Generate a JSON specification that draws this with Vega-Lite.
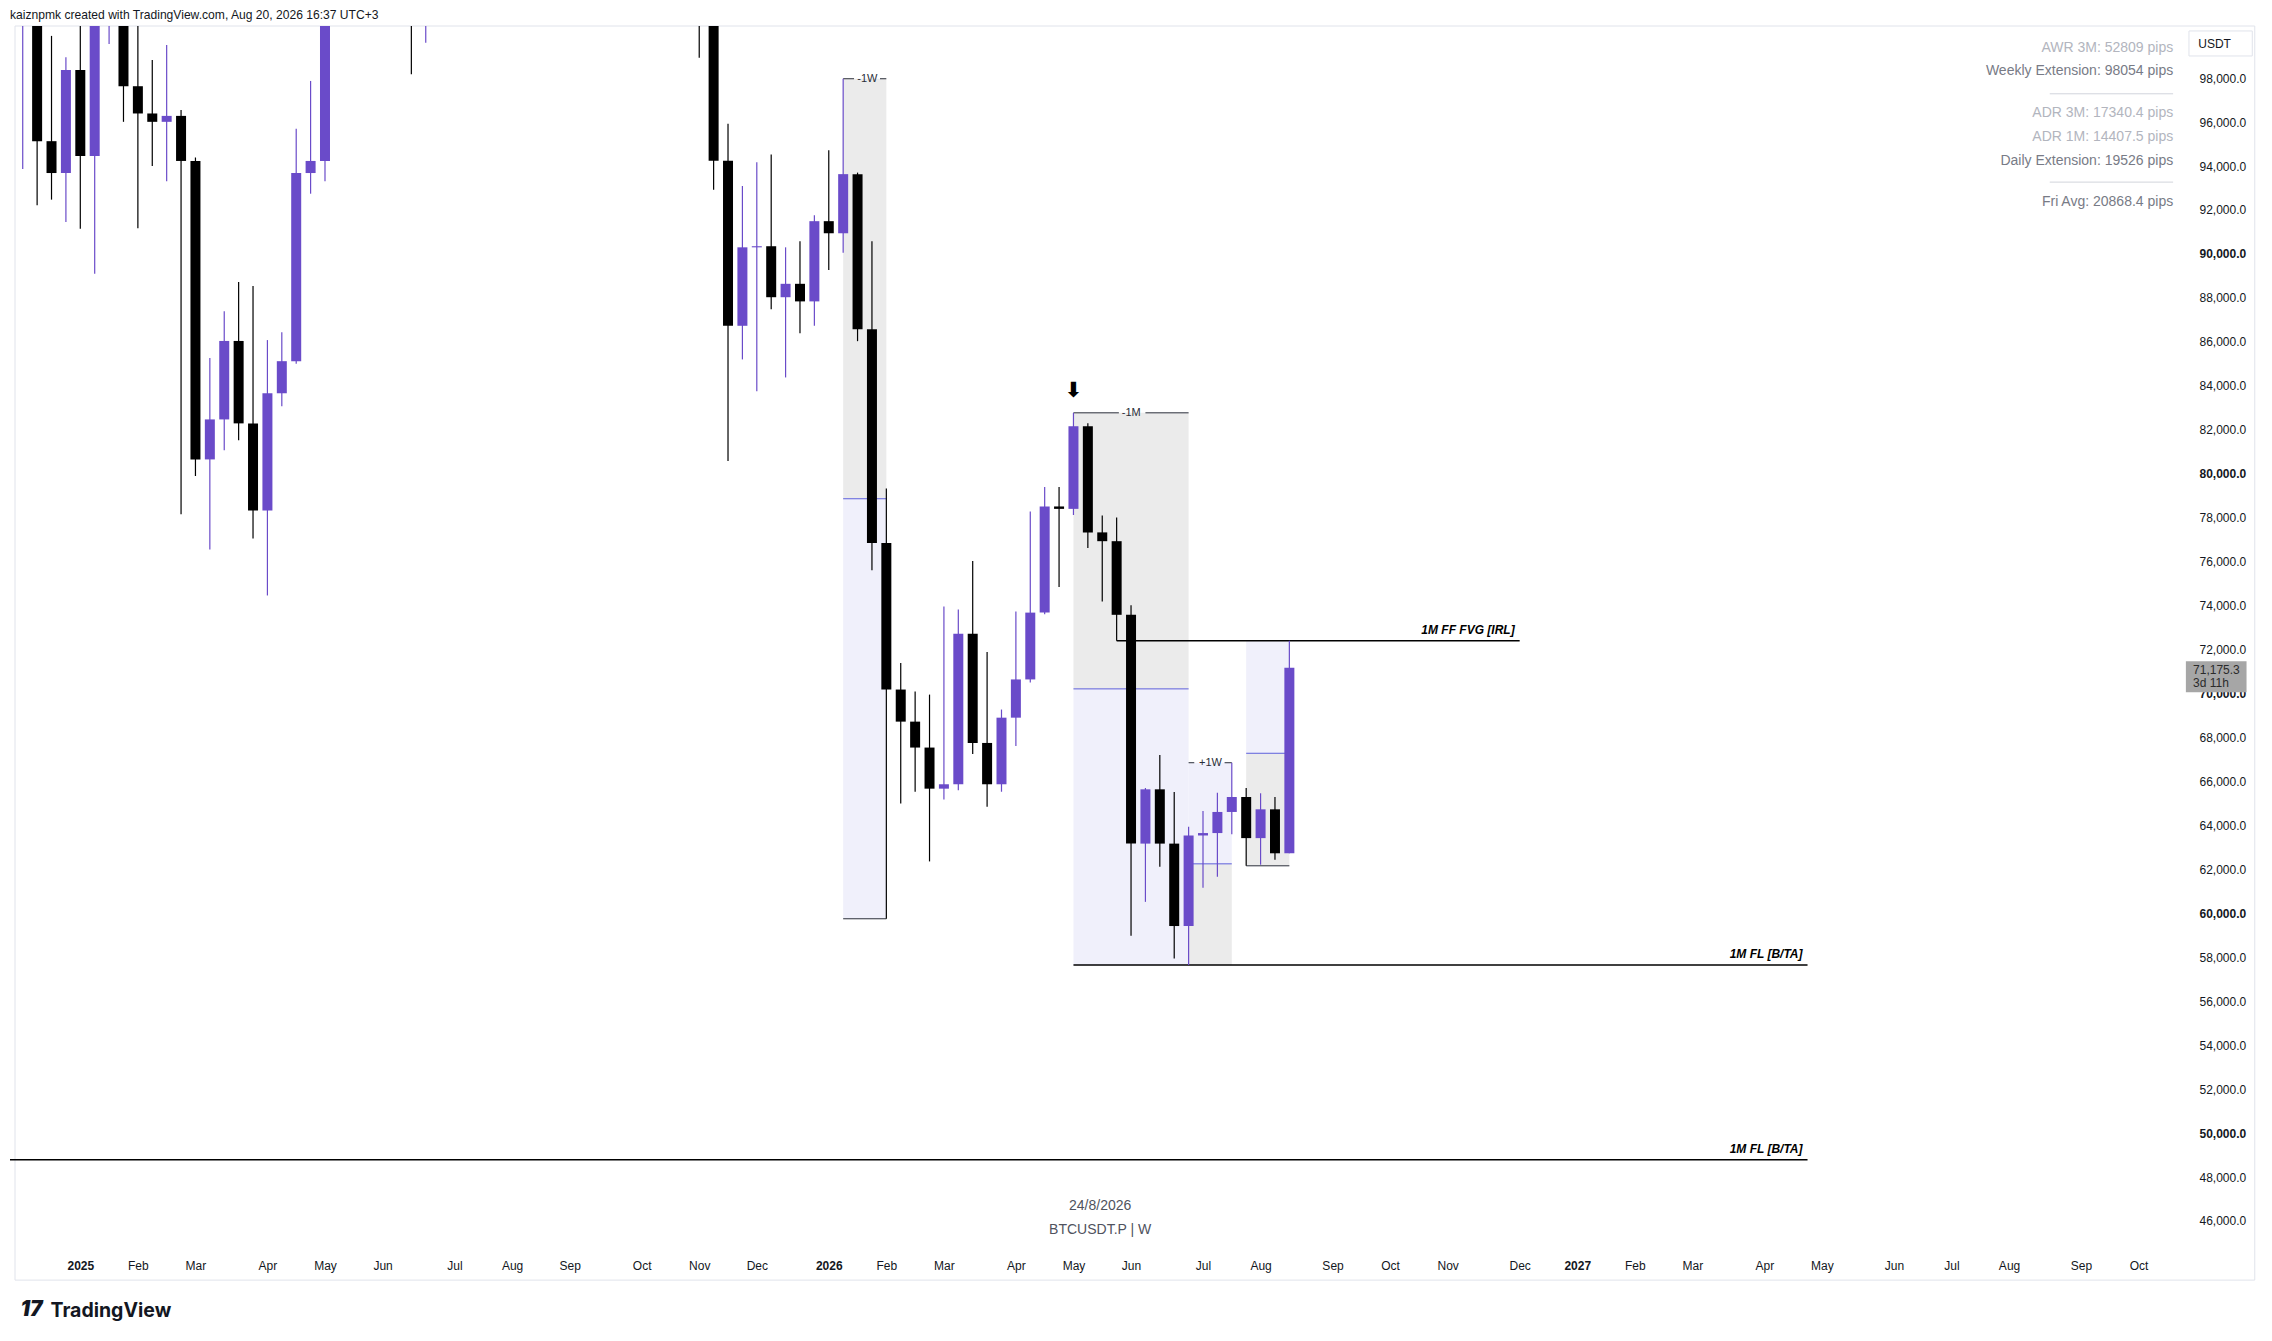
{
  "$schema": "https://vega.github.io/schema/vega-lite/v6.json",
  "width": 2178,
  "height": 1224,
  "autosize": {"type": "none"},
  "padding": {"left": 10, "top": 26, "right": 84, "bottom": 91},
  "background": "#ffffff",
  "view": {"stroke": null},
  "title": {
    "text": "kaiznpmk created with TradingView.com, Aug 20, 2026 16:37 UTC+3",
    "anchor": "start",
    "frame": "group",
    "offset": 8,
    "dy": 14,
    "baseline": "alphabetic",
    "font": "Liberation Sans",
    "fontSize": 12.1,
    "fontWeight": "normal",
    "color": "#131722"
  },
  "datasets": {
    "candles": [
      {"d": "2024-12-09", "o": 101100, "h": 106600, "l": 93860, "c": 106100},
      {"d": "2024-12-16", "o": 106100, "h": 108300, "l": 92220, "c": 95130},
      {"d": "2024-12-23", "o": 95130, "h": 99920, "l": 92470, "c": 93680},
      {"d": "2024-12-30", "o": 93680, "h": 98950, "l": 91450, "c": 98370},
      {"d": "2025-01-06", "o": 98370, "h": 102700, "l": 91150, "c": 94450},
      {"d": "2025-01-13", "o": 94450, "h": 106300, "l": 89100, "c": 101300},
      {"d": "2025-01-20", "o": 101300, "h": 109600, "l": 99550, "c": 104700},
      {"d": "2025-01-27", "o": 104700, "h": 106500, "l": 96010, "c": 97630},
      {"d": "2025-02-03", "o": 97630, "h": 102500, "l": 91170, "c": 96390},
      {"d": "2025-02-10", "o": 96390, "h": 98820, "l": 94000, "c": 96010},
      {"d": "2025-02-17", "o": 96010, "h": 99500, "l": 93310, "c": 96280},
      {"d": "2025-02-24", "o": 96280, "h": 96550, "l": 78160, "c": 94230},
      {"d": "2025-03-03", "o": 94230, "h": 94390, "l": 79900, "c": 80650},
      {"d": "2025-03-10", "o": 80650, "h": 85260, "l": 76550, "c": 82470},
      {"d": "2025-03-17", "o": 82470, "h": 87390, "l": 81070, "c": 86040},
      {"d": "2025-03-24", "o": 86040, "h": 88720, "l": 81520, "c": 82290},
      {"d": "2025-03-31", "o": 82290, "h": 88540, "l": 77050, "c": 78330},
      {"d": "2025-04-07", "o": 78330, "h": 86080, "l": 74460, "c": 83660},
      {"d": "2025-04-14", "o": 83660, "h": 86440, "l": 83070, "c": 85120},
      {"d": "2025-04-21", "o": 85120, "h": 95700, "l": 85000, "c": 93680},
      {"d": "2025-04-28", "o": 93680, "h": 97870, "l": 92740, "c": 94230},
      {"d": "2025-05-05", "o": 94230, "h": 104300, "l": 93310, "c": 104100},
      {"d": "2025-05-12", "o": 104100, "h": 107100, "l": 100700, "c": 106500},
      {"d": "2025-05-19", "o": 106500, "h": 111900, "l": 102000, "c": 109000},
      {"d": "2025-05-26", "o": 109000, "h": 110400, "l": 103100, "c": 105700},
      {"d": "2025-06-02", "o": 105700, "h": 110600, "l": 100500, "c": 105600},
      {"d": "2025-06-09", "o": 105600, "h": 110400, "l": 102700, "c": 105500},
      {"d": "2025-06-16", "o": 105500, "h": 108900, "l": 98170, "c": 100900},
      {"d": "2025-06-23", "o": 100900, "h": 108500, "l": 99610, "c": 108300},
      {"d": "2025-06-30", "o": 108300, "h": 110600, "l": 105100, "c": 109200},
      {"d": "2025-07-07", "o": 109200, "h": 119500, "l": 107500, "c": 119100},
      {"d": "2025-07-14", "o": 119100, "h": 123200, "l": 115700, "c": 117300},
      {"d": "2025-07-21", "o": 117300, "h": 120200, "l": 114700, "c": 119400},
      {"d": "2025-07-28", "o": 119400, "h": 119800, "l": 112000, "c": 114200},
      {"d": "2025-08-04", "o": 114200, "h": 122300, "l": 112700, "c": 119300},
      {"d": "2025-08-11", "o": 119300, "h": 124500, "l": 114600, "c": 117400},
      {"d": "2025-08-18", "o": 117400, "h": 117600, "l": 110600, "c": 113500},
      {"d": "2025-08-25", "o": 113500, "h": 113600, "l": 107300, "c": 108200},
      {"d": "2025-09-01", "o": 108200, "h": 113400, "l": 107300, "c": 111100},
      {"d": "2025-09-08", "o": 111100, "h": 116700, "l": 110600, "c": 115300},
      {"d": "2025-09-15", "o": 115300, "h": 117900, "l": 114700, "c": 115200},
      {"d": "2025-09-22", "o": 115200, "h": 115400, "l": 108600, "c": 112200},
      {"d": "2025-09-29", "o": 112200, "h": 125700, "l": 111800, "c": 123500},
      {"d": "2025-10-06", "o": 123500, "h": 126200, "l": 102000, "c": 115200},
      {"d": "2025-10-13", "o": 115200, "h": 115900, "l": 103500, "c": 108600},
      {"d": "2025-10-20", "o": 108600, "h": 116000, "l": 106700, "c": 114500},
      {"d": "2025-10-27", "o": 114500, "h": 116400, "l": 106300, "c": 110600},
      {"d": "2025-11-03", "o": 110600, "h": 111200, "l": 98930, "c": 104700},
      {"d": "2025-11-10", "o": 104700, "h": 107000, "l": 92920, "c": 94240},
      {"d": "2025-11-17", "o": 94240, "h": 95920, "l": 80580, "c": 86730},
      {"d": "2025-11-24", "o": 86730, "h": 93090, "l": 85200, "c": 90300},
      {"d": "2025-12-01", "o": 90300, "h": 94170, "l": 83750, "c": 90350},
      {"d": "2025-12-08", "o": 90350, "h": 94520, "l": 87480, "c": 88030},
      {"d": "2025-12-15", "o": 88030, "h": 90300, "l": 84380, "c": 88640},
      {"d": "2025-12-22", "o": 88640, "h": 90580, "l": 86390, "c": 87840},
      {"d": "2025-12-29", "o": 87840, "h": 91760, "l": 86730, "c": 91490},
      {"d": "2026-01-05", "o": 91490, "h": 94720, "l": 89270, "c": 90940},
      {"d": "2026-01-12", "o": 90940, "h": 97970, "l": 90050, "c": 93630},
      {"d": "2026-01-19", "o": 93630, "h": 93700, "l": 86030, "c": 86570},
      {"d": "2026-01-26", "o": 86570, "h": 90580, "l": 75610, "c": 76850},
      {"d": "2026-02-02", "o": 76850, "h": 79330, "l": 59750, "c": 70180},
      {"d": "2026-02-09", "o": 70180, "h": 71390, "l": 64990, "c": 68720},
      {"d": "2026-02-16", "o": 68720, "h": 70090, "l": 65530, "c": 67540},
      {"d": "2026-02-23", "o": 67540, "h": 69950, "l": 62360, "c": 65670},
      {"d": "2026-03-02", "o": 65670, "h": 73960, "l": 65180, "c": 65870},
      {"d": "2026-03-09", "o": 65870, "h": 73820, "l": 65600, "c": 72720},
      {"d": "2026-03-16", "o": 72720, "h": 76030, "l": 67250, "c": 67750},
      {"d": "2026-03-23", "o": 67750, "h": 71890, "l": 64850, "c": 65870},
      {"d": "2026-03-30", "o": 65870, "h": 69270, "l": 65530, "c": 68900},
      {"d": "2026-04-06", "o": 68900, "h": 73730, "l": 67610, "c": 70640},
      {"d": "2026-04-13", "o": 70640, "h": 78280, "l": 70500, "c": 73680},
      {"d": "2026-04-20", "o": 73680, "h": 79390, "l": 73600, "c": 78510},
      {"d": "2026-04-27", "o": 78510, "h": 79390, "l": 74840, "c": 78400},
      {"d": "2026-05-04", "o": 78400, "h": 82770, "l": 78120, "c": 82160},
      {"d": "2026-05-11", "o": 82160, "h": 82300, "l": 76620, "c": 77330},
      {"d": "2026-05-18", "o": 77330, "h": 78100, "l": 74190, "c": 76930},
      {"d": "2026-05-25", "o": 76930, "h": 78010, "l": 72400, "c": 73580},
      {"d": "2026-06-01", "o": 73580, "h": 74020, "l": 58980, "c": 63170},
      {"d": "2026-06-08", "o": 63170, "h": 65700, "l": 60520, "c": 65640},
      {"d": "2026-06-15", "o": 65640, "h": 67200, "l": 62120, "c": 63170},
      {"d": "2026-06-22", "o": 63170, "h": 65520, "l": 57940, "c": 59420},
      {"d": "2026-06-29", "o": 59420, "h": 63940, "l": 57650, "c": 63540},
      {"d": "2026-07-06", "o": 63540, "h": 64650, "l": 61160, "c": 63650},
      {"d": "2026-07-13", "o": 63650, "h": 65480, "l": 61660, "c": 64610},
      {"d": "2026-07-20", "o": 64610, "h": 66850, "l": 63600, "c": 65290},
      {"d": "2026-07-27", "o": 65290, "h": 65700, "l": 62160, "c": 63420},
      {"d": "2026-08-03", "o": 63420, "h": 65460, "l": 62210, "c": 64730},
      {"d": "2026-08-10", "o": 64730, "h": 65290, "l": 62440, "c": 62730},
      {"d": "2026-08-17", "o": 62730, "h": 72400, "l": 62730, "c": 71175.3}
    ],
    "zones": [
      {"x1": "2026-01-12", "x2": "2026-02-02", "y1": 97970, "y2": 78860, "tone": "gray"},
      {"x1": "2026-01-12", "x2": "2026-02-02", "y1": 78860, "y2": 59750, "tone": "lav"},
      {"x1": "2026-05-04", "x2": "2026-06-29", "y1": 82770, "y2": 70210, "tone": "gray"},
      {"x1": "2026-05-04", "x2": "2026-06-29", "y1": 70210, "y2": 57650, "tone": "lav"},
      {"x1": "2026-06-29", "x2": "2026-07-20", "y1": 66850, "y2": 62250, "tone": "lav"},
      {"x1": "2026-06-29", "x2": "2026-07-20", "y1": 62250, "y2": 57650, "tone": "gray"},
      {"x1": "2026-07-27", "x2": "2026-08-17", "y1": 72400, "y2": 67280, "tone": "lav"},
      {"x1": "2026-07-27", "x2": "2026-08-17", "y1": 67280, "y2": 62160, "tone": "gray"}
    ],
    "mids": [
      {"x1": "2026-01-12", "x2": "2026-02-02", "y": 78860},
      {"x1": "2026-05-04", "x2": "2026-06-29", "y": 70210},
      {"x1": "2026-06-29", "x2": "2026-07-20", "y": 62250},
      {"x1": "2026-07-27", "x2": "2026-08-17", "y": 67280}
    ],
    "edges": [
      {"x1": "2026-01-12", "x2": "2026-02-02", "y": 59750},
      {"x1": "2026-01-12", "x2": "2026-01-17T07:00:00Z", "y": 97970},
      {"x1": "2026-01-29T22:00:00Z", "x2": "2026-02-02", "y": 97970},
      {"x1": "2026-05-04", "x2": "2026-05-26T02:00:00Z", "y": 82770},
      {"x1": "2026-06-08", "x2": "2026-06-29", "y": 82770},
      {"x1": "2026-06-29", "x2": "2026-07-01T18:00:00Z", "y": 66850},
      {"x1": "2026-07-16T12:00:00Z", "x2": "2026-07-20", "y": 66850},
      {"x1": "2026-07-27", "x2": "2026-08-17", "y": 62160}
    ],
    "levels": [
      {"x1": "2026-05-04", "x2": "2027-04-26", "y": 57650, "name": "1M FL [B/TA]"},
      {"x1": "2024-11-25", "x2": "2027-04-26", "y": 48790, "name": "1M FL [B/TA]"},
      {"x1": "2026-05-25", "x2": "2026-12-07", "y": 72400, "name": "1M FF FVG [IRL]"}
    ],
    "boxlabels": [
      {"x": "2026-01-23T19:00:00Z", "y": 97970, "t": "-1W"},
      {"x": "2026-06-01T03:00:00Z", "y": 82770, "t": "-1M"},
      {"x": "2026-07-09T15:00:00Z", "y": 66850, "t": "+1W"}
    ],
    "marker": [
      {"x": "2026-05-04", "y": 83750, "t": "⬇"}
    ],
    "info": [
      {"x": "2027-10-20T20:00:00Z", "y": 99379, "t": "AWR 3M: 52809 pips", "grp": "avg"},
      {"x": "2027-10-20T20:00:00Z", "y": 98304, "t": "Weekly Extension: 98054 pips", "grp": "ext"},
      {"x": "2027-10-20T20:00:00Z", "y": 96409, "t": "ADR 3M: 17340.4 pips", "grp": "avg"},
      {"x": "2027-10-20T20:00:00Z", "y": 95316, "t": "ADR 1M: 14407.5 pips", "grp": "avg"},
      {"x": "2027-10-20T20:00:00Z", "y": 94237, "t": "Daily Extension: 19526 pips", "grp": "ext"},
      {"x": "2027-10-20T20:00:00Z", "y": 92366, "t": "Fri Avg: 20868.4 pips", "grp": "ext"}
    ],
    "separators": [
      {"x1": "2027-08-21T19:00:00Z", "x2": "2027-10-20T19:00:00Z", "y": 97286},
      {"x1": "2027-08-21T19:00:00Z", "x2": "2027-10-20T19:00:00Z", "y": 93267}
    ],
    "watermark": [
      {"x": "2026-05-17", "y": 46680, "t": "24/8/2026"},
      {"x": "2026-05-17", "y": 45590, "t": "BTCUSDT.P | W"}
    ],
    "logo": [
      {"x": "2024-12-13T07:00:00Z", "y": 41944, "t": "17"}
    ],
    "frame": [
      {"x1": "2024-12-05T05:48:00Z", "x2": "2027-11-29T12:00:00Z", "y1": 100370, "y2": 43310}
    ],
    "unitbox": [
      {"x1": "2027-10-28T12:00:00Z", "x2": "2027-11-28T07:00:00Z", "y1": 100144, "y2": 99006}
    ],
    "unittext": [
      {"x": "2027-11-02", "y": 99552, "t": "USDT"}
    ],
    "pricebox": [
      {"x1": "2027-10-27", "x2": "2027-11-25T12:00:00Z", "y1": 71467, "y2": 70056}
    ],
    "pricetext": [
      {"x": "2027-10-30T12:00:00Z", "y": 71089, "t": "71,175.3"},
      {"x": "2027-10-30T12:00:00Z", "y": 70474, "t": "3d 11h"}
    ]
  },
  "layer": [
    {
      "data": {"name": "frame"},
      "mark": {"type": "rect", "clip": false, "filled": false, "color": "#e0e3eb", "strokeWidth": 1},
      "encoding": {
        "x": {"field": "x1", "type": "temporal"},
        "x2": {"field": "x2"},
        "y": {"field": "y1", "type": "quantitative"},
        "y2": {"field": "y2"}
      }
    },
    {
      "data": {"name": "zones"},
      "mark": {"type": "rect", "clip": true},
      "encoding": {
        "x": {
          "field": "x1",
          "type": "temporal",
          "scale": {
            "type": "utc",
            "domain": [
              {"year": 2024, "month": 12, "date": 5, "hours": 5, "minutes": 48, "utc": true},
              {"year": 2027, "month": 10, "date": 25, "hours": 14, "minutes": 24, "utc": true}
            ]
          },
          "axis": {
            "values": [
              {"year": 2025, "month": 1, "date": 6, "utc": true},
              {"year": 2025, "month": 2, "date": 3, "utc": true},
              {"year": 2025, "month": 3, "date": 3, "utc": true},
              {"year": 2025, "month": 4, "date": 7, "utc": true},
              {"year": 2025, "month": 5, "date": 5, "utc": true},
              {"year": 2025, "month": 6, "date": 2, "utc": true},
              {"year": 2025, "month": 7, "date": 7, "utc": true},
              {"year": 2025, "month": 8, "date": 4, "utc": true},
              {"year": 2025, "month": 9, "date": 1, "utc": true},
              {"year": 2025, "month": 10, "date": 6, "utc": true},
              {"year": 2025, "month": 11, "date": 3, "utc": true},
              {"year": 2025, "month": 12, "date": 1, "utc": true},
              {"year": 2026, "month": 1, "date": 5, "utc": true},
              {"year": 2026, "month": 2, "date": 2, "utc": true},
              {"year": 2026, "month": 3, "date": 2, "utc": true},
              {"year": 2026, "month": 4, "date": 6, "utc": true},
              {"year": 2026, "month": 5, "date": 4, "utc": true},
              {"year": 2026, "month": 6, "date": 1, "utc": true},
              {"year": 2026, "month": 7, "date": 6, "utc": true},
              {"year": 2026, "month": 8, "date": 3, "utc": true},
              {"year": 2026, "month": 9, "date": 7, "utc": true},
              {"year": 2026, "month": 10, "date": 5, "utc": true},
              {"year": 2026, "month": 11, "date": 2, "utc": true},
              {"year": 2026, "month": 12, "date": 7, "utc": true},
              {"year": 2027, "month": 1, "date": 4, "utc": true},
              {"year": 2027, "month": 2, "date": 1, "utc": true},
              {"year": 2027, "month": 3, "date": 1, "utc": true},
              {"year": 2027, "month": 4, "date": 5, "utc": true},
              {"year": 2027, "month": 5, "date": 3, "utc": true},
              {"year": 2027, "month": 6, "date": 7, "utc": true},
              {"year": 2027, "month": 7, "date": 5, "utc": true},
              {"year": 2027, "month": 8, "date": 2, "utc": true},
              {"year": 2027, "month": 9, "date": 6, "utc": true},
              {"year": 2027, "month": 10, "date": 4, "utc": true}
            ],
            "labelExpr": "utcmonth(datum.value) === 0 ? utcFormat(datum.value, '%Y') : utcFormat(datum.value, '%b')",
            "labelFont": "Liberation Sans",
            "labelFontSize": 12,
            "labelColor": "#131722",
            "labelFontWeight": {"condition": {"test": "utcmonth(datum.value) === 0", "value": "bold"}, "value": "normal"},
            "labelPadding": 10,
            "labelOverlap": false,
            "labelFlush": false,
            "ticks": false,
            "tickSize": 0,
            "domain": false,
            "grid": false,
            "title": "TradingView",
            "titleFont": "Inter",
            "titleFontSize": 19.5,
            "titleFontWeight": "bold",
            "titleColor": "#131722",
            "titleAnchor": "start",
            "titleAlign": "left",
            "titleBaseline": "alphabetic",
            "titleX": 40,
            "titleY": 66
          }
        },
        "x2": {"field": "x2"},
        "y": {
          "field": "y1",
          "type": "quantitative",
          "scale": {"domain": [44680, 100370], "nice": false, "zero": false},
          "axis": {
            "orient": "right",
            "values": [46000, 48000, 50000, 52000, 54000, 56000, 58000, 60000, 62000, 64000, 66000, 68000, 70000, 72000, 74000, 76000, 78000, 80000, 82000, 84000, 86000, 88000, 90000, 92000, 94000, 96000, 98000],
            "format": ",.1f",
            "labelFont": "Liberation Sans",
            "labelFontSize": 12,
            "labelColor": "#131722",
            "labelFontWeight": {"condition": {"test": "datum.value % 10000 === 0", "value": "bold"}, "value": "normal"},
            "labelPadding": 11,
            "labelAlign": "left",
            "labelBaseline": "middle",
            "labelOverlap": false,
            "labelFlush": false,
            "ticks": false,
            "tickSize": 0,
            "domain": false,
            "grid": false,
            "title": null
          }
        },
        "y2": {"field": "y2"},
        "fill": {
          "field": "tone",
          "type": "nominal",
          "scale": {"domain": ["gray", "lav"], "range": ["#ebebeb", "#f0f0fb"]},
          "legend": null
        }
      }
    },
    {
      "data": {"name": "mids"},
      "mark": {"type": "rule", "clip": true, "color": "#5d5fdb", "strokeWidth": 1},
      "encoding": {
        "x": {"field": "x1", "type": "temporal"},
        "x2": {"field": "x2"},
        "y": {"field": "y", "type": "quantitative"}
      }
    },
    {
      "mark": {"type": "rule", "clip": true, "color": "#9598a1", "strokeWidth": 1, "strokeDash": [1.5, 3]},
      "encoding": {
        "y": {"datum": 71175.3, "type": "quantitative"}
      }
    },
    {
      "data": {"name": "edges"},
      "mark": {"type": "rule", "clip": true, "color": "#2a2e39", "strokeWidth": 1},
      "encoding": {
        "x": {"field": "x1", "type": "temporal"},
        "x2": {"field": "x2"},
        "y": {"field": "y", "type": "quantitative"}
      }
    },
    {
      "data": {"name": "levels"},
      "mark": {"type": "rule", "clip": true, "color": "#000000", "strokeWidth": 1.5},
      "encoding": {
        "x": {"field": "x1", "type": "temporal"},
        "x2": {"field": "x2"},
        "y": {"field": "y", "type": "quantitative"}
      }
    },
    {
      "data": {"name": "candles"},
      "mark": {"type": "rule", "clip": true, "strokeWidth": 1.2},
      "encoding": {
        "x": {"field": "d", "type": "temporal"},
        "y": {"field": "l", "type": "quantitative"},
        "y2": {"field": "h"},
        "color": {"condition": {"test": "datum.c >= datum.o", "value": "#6a4bc9"}, "value": "#000000"}
      }
    },
    {
      "data": {"name": "candles"},
      "mark": {"type": "bar", "clip": true, "width": 10},
      "encoding": {
        "x": {"field": "d", "type": "temporal"},
        "y": {"field": "o", "type": "quantitative"},
        "y2": {"field": "c"},
        "color": {"condition": {"test": "datum.c >= datum.o", "value": "#6a4bc9"}, "value": "#000000"}
      }
    },
    {
      "data": {"name": "levels"},
      "mark": {"type": "text", "clip": true, "align": "right", "baseline": "middle", "dx": -5, "dy": -11, "font": "Liberation Sans", "fontSize": 12, "fontWeight": "bold", "fontStyle": "italic", "color": "#000000"},
      "encoding": {
        "x": {"field": "x2", "type": "temporal"},
        "y": {"field": "y", "type": "quantitative"},
        "text": {"field": "name"}
      }
    },
    {
      "data": {"name": "boxlabels"},
      "mark": {"type": "text", "clip": true, "align": "center", "baseline": "middle", "font": "Liberation Sans", "fontSize": 11, "color": "#2a2e39"},
      "encoding": {
        "x": {"field": "x", "type": "temporal"},
        "y": {"field": "y", "type": "quantitative"},
        "text": {"field": "t"}
      }
    },
    {
      "data": {"name": "marker"},
      "mark": {"type": "text", "clip": true, "align": "center", "baseline": "middle", "font": "DejaVu Sans", "fontSize": 21, "fontWeight": "bold", "color": "#000000"},
      "encoding": {
        "x": {"field": "x", "type": "temporal"},
        "y": {"field": "y", "type": "quantitative"},
        "text": {"field": "t"}
      }
    },
    {
      "data": {"name": "info"},
      "mark": {"type": "text", "clip": true, "align": "right", "baseline": "middle", "font": "Liberation Sans", "fontSize": 14},
      "encoding": {
        "x": {"field": "x", "type": "temporal"},
        "y": {"field": "y", "type": "quantitative"},
        "text": {"field": "t"},
        "color": {"field": "grp", "type": "nominal", "scale": {"domain": ["avg", "ext"], "range": ["#b2b5be", "#787b86"]}, "legend": null}
      }
    },
    {
      "data": {"name": "separators"},
      "mark": {"type": "rule", "clip": true, "color": "#d1d4dc", "strokeWidth": 1},
      "encoding": {
        "x": {"field": "x1", "type": "temporal"},
        "x2": {"field": "x2"},
        "y": {"field": "y", "type": "quantitative"}
      }
    },
    {
      "data": {"name": "watermark"},
      "mark": {"type": "text", "clip": true, "align": "center", "baseline": "middle", "font": "Liberation Sans", "fontSize": 14, "color": "#50535e"},
      "encoding": {
        "x": {"field": "x", "type": "temporal"},
        "y": {"field": "y", "type": "quantitative"},
        "text": {"field": "t"}
      }
    },
    {
      "data": {"name": "logo"},
      "mark": {"type": "text", "clip": false, "align": "center", "baseline": "middle", "font": "Inter", "fontSize": 21, "fontWeight": 900, "fontStyle": "italic", "color": "#131722"},
      "encoding": {
        "x": {"field": "x", "type": "temporal"},
        "y": {"field": "y", "type": "quantitative"},
        "text": {"field": "t"}
      }
    },
    {
      "data": {"name": "unitbox"},
      "mark": {"type": "rect", "clip": false, "fill": "#ffffff", "stroke": "#e0e3eb", "strokeWidth": 1},
      "encoding": {
        "x": {"field": "x1", "type": "temporal"},
        "x2": {"field": "x2"},
        "y": {"field": "y1", "type": "quantitative"},
        "y2": {"field": "y2"}
      }
    },
    {
      "data": {"name": "unittext"},
      "mark": {"type": "text", "clip": false, "align": "left", "baseline": "middle", "font": "Liberation Sans", "fontSize": 12, "color": "#131722"},
      "encoding": {
        "x": {"field": "x", "type": "temporal"},
        "y": {"field": "y", "type": "quantitative"},
        "text": {"field": "t"}
      }
    },
    {
      "data": {"name": "pricebox"},
      "mark": {"type": "rect", "clip": false, "fill": "#a6a6a6"},
      "encoding": {
        "x": {"field": "x1", "type": "temporal"},
        "x2": {"field": "x2"},
        "y": {"field": "y1", "type": "quantitative"},
        "y2": {"field": "y2"}
      }
    },
    {
      "data": {"name": "pricetext"},
      "mark": {"type": "text", "clip": false, "align": "left", "baseline": "middle", "font": "Liberation Sans", "fontSize": 12, "color": "#2b2b2b"},
      "encoding": {
        "x": {"field": "x", "type": "temporal"},
        "y": {"field": "y", "type": "quantitative"},
        "text": {"field": "t"}
      }
    }
  ]
}
